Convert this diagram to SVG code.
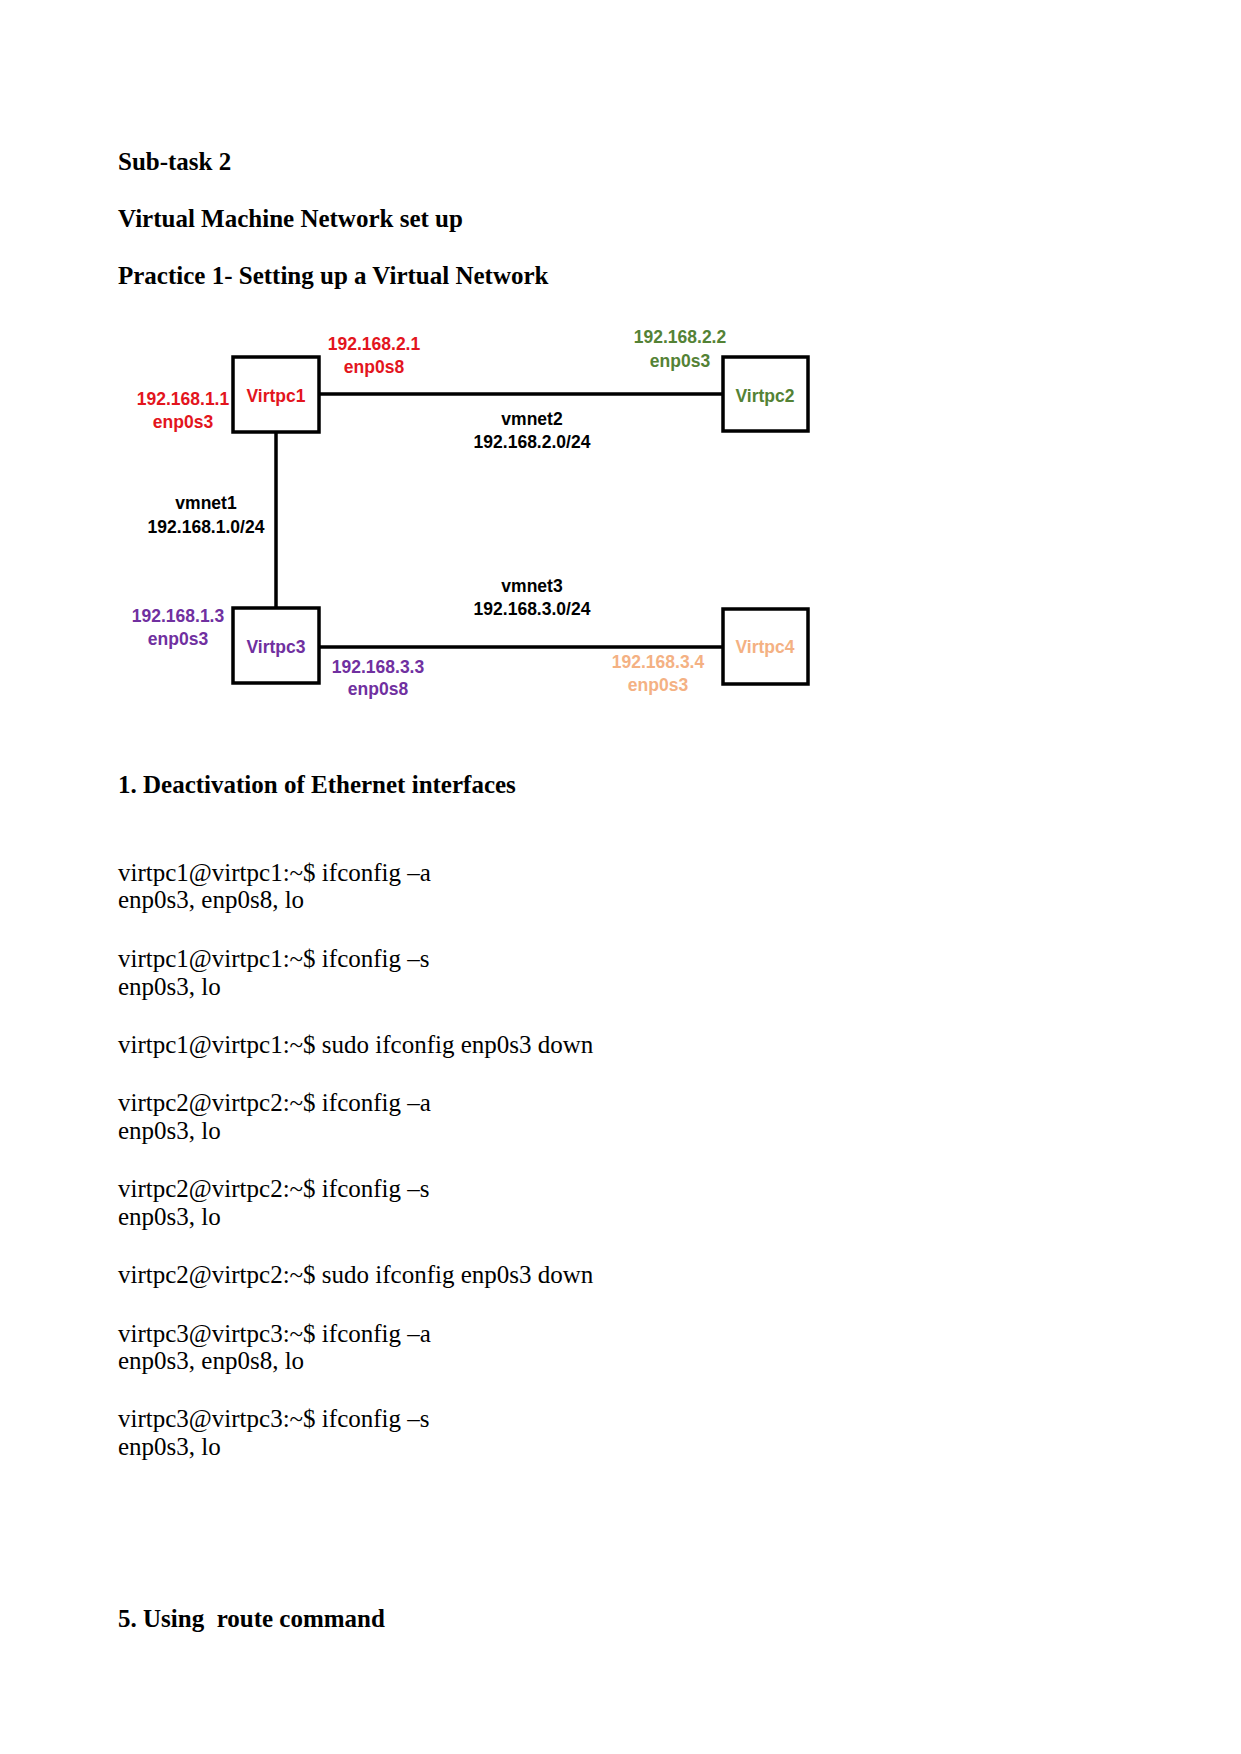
<svg xmlns="http://www.w3.org/2000/svg" width="1241" height="1754" viewBox="0 0 1241 1754">
<style>
.h{font-family:"Liberation Serif","Times New Roman",serif;font-size:25px;font-weight:bold;fill:#000}
.t{font-family:"Liberation Serif","Times New Roman",serif;font-size:25px;fill:#000}
.d{font-family:"Liberation Sans",Arial,sans-serif;font-size:17.5px;font-weight:bold;text-anchor:middle}
.box{fill:#fff;stroke:#000;stroke-width:3.5}
.ln{stroke:#000;stroke-width:3.5;fill:none}
.red{fill:#e3151d}.grn{fill:#548235}.pur{fill:#7030a0}.org{fill:#f4b183}.blk{fill:#000}
</style>
<rect width="1241" height="1754" fill="#fff"/>
<text class="h" x="118" y="170">Sub-task 2</text>
<text class="h" x="118" y="227">Virtual Machine Network set up</text>
<text class="h" x="118" y="284">Practice 1- Setting up a Virtual Network</text>

<g id="connectors">
<line class="ln" x1="319" y1="394" x2="723" y2="394"/>
<line class="ln" x1="276" y1="432" x2="276" y2="608"/>
<line class="ln" x1="319" y1="647" x2="723" y2="647"/>
<text class="d blk" x="532" y="425">vmnet2</text>
<text class="d blk" x="532" y="448">192.168.2.0/24</text>
<text class="d blk" x="206" y="509">vmnet1</text>
<text class="d blk" x="206" y="533">192.168.1.0/24</text>
<text class="d blk" x="532" y="592">vmnet3</text>
<text class="d blk" x="532" y="615">192.168.3.0/24</text>
</g>

<g id="virtpc1">
<rect class="box" x="233" y="357" width="86" height="75"/>
<text class="d red" x="276" y="402">Virtpc1</text>
<text class="d red" x="374" y="350">192.168.2.1</text>
<text class="d red" x="374" y="373">enp0s8</text>
<text class="d red" x="183" y="405">192.168.1.1</text>
<text class="d red" x="183" y="428">enp0s3</text>
</g>

<g id="virtpc2">
<rect class="box" x="723" y="357" width="85" height="74"/>
<text class="d grn" x="765" y="402">Virtpc2</text>
<text class="d grn" x="680" y="343">192.168.2.2</text>
<text class="d grn" x="680" y="367">enp0s3</text>
</g>

<g id="virtpc3">
<rect class="box" x="233" y="608" width="86" height="75"/>
<text class="d pur" x="276" y="653">Virtpc3</text>
<text class="d pur" x="178" y="622">192.168.1.3</text>
<text class="d pur" x="178" y="645">enp0s3</text>
<text class="d pur" x="378" y="673">192.168.3.3</text>
<text class="d pur" x="378" y="695">enp0s8</text>
</g>

<g id="virtpc4">
<rect class="box" x="723" y="609" width="85" height="75"/>
<text class="d org" x="765" y="653">Virtpc4</text>
<text class="d org" x="658" y="668">192.168.3.4</text>
<text class="d org" x="658" y="691">enp0s3</text>
</g>

<text class="h" x="118" y="793">1. Deactivation of Ethernet interfaces</text>
<text class="t" x="118" y="881">virtpc1@virtpc1:~$ ifconfig –a</text>
<text class="t" x="118" y="908">enp0s3, enp0s8, lo</text>
<text class="t" x="118" y="967">virtpc1@virtpc1:~$ ifconfig –s</text>
<text class="t" x="118" y="995">enp0s3, lo</text>
<text class="t" x="118" y="1053">virtpc1@virtpc1:~$ sudo ifconfig enp0s3 down</text>
<text class="t" x="118" y="1111">virtpc2@virtpc2:~$ ifconfig –a</text>
<text class="t" x="118" y="1139">enp0s3, lo</text>
<text class="t" x="118" y="1197">virtpc2@virtpc2:~$ ifconfig –s</text>
<text class="t" x="118" y="1225">enp0s3, lo</text>
<text class="t" x="118" y="1283">virtpc2@virtpc2:~$ sudo ifconfig enp0s3 down</text>
<text class="t" x="118" y="1342">virtpc3@virtpc3:~$ ifconfig –a</text>
<text class="t" x="118" y="1369">enp0s3, enp0s8, lo</text>
<text class="t" x="118" y="1427">virtpc3@virtpc3:~$ ifconfig –s</text>
<text class="t" x="118" y="1455">enp0s3, lo</text>
<text class="h" x="118" y="1627" xml:space="preserve">5. Using  route command</text>
</svg>
